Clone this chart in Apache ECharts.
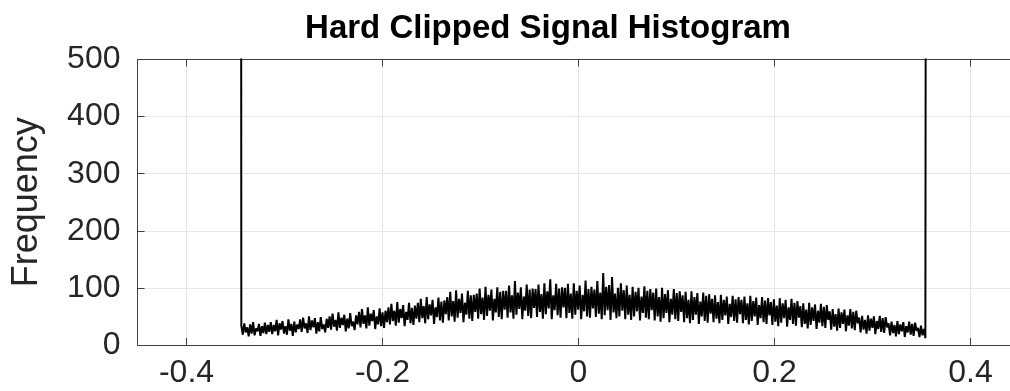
<!DOCTYPE html>
<html>
<head>
<meta charset="utf-8">
<script src="https://cdn.jsdelivr.net/npm/echarts@6/dist/echarts.min.js"></script>
<style>
  html, body { margin: 0; padding: 0; background: #ffffff; }
  #chart { width: 1010px; height: 391px; }
</style>
</head>
<body>
<div id="chart"></div>
<script>
// Histogram of a hard-clipped signal: clip levels and bin counts
const binFirst = -0.3448;   // centre of the first (clipped) bin
const binLast = 0.3562;     // centre of the last (clipped) bin
const clippedLow = 2600;    // samples stuck at the negative clip level
const clippedHigh = 2600;   // samples stuck at the positive clip level

// counts of the un-clipped bins, left to right
const interiorCounts = [
  34,18,38,22,31,15,36,20,40,17,29,24,37,16,33,21,39,19,35,23,
  40,19,35,24,44,17,38,27,42,20,33,18,45,25,37,16,41,22,36,28,
  45,23,48,29,38,21,50,26,43,31,47,20,40,24,49,28,36,22,46,30,
  50,27,55,32,44,25,57,30,48,35,53,24,46,29,56,33,41,26,52,36,
  58,31,63,37,52,29,66,34,55,42,61,28,50,36,64,33,57,30,60,40,
  66,36,72,42,60,34,75,39,63,47,70,33,58,44,74,38,65,35,69,46,
  74,40,81,47,68,38,84,45,71,52,79,37,66,49,83,43,76,39,78,54,
  84,43,93,50,77,41,96,48,81,56,90,40,74,53,95,46,87,42,88,58,
  90,46,99,54,83,44,102,51,88,60,97,43,81,57,101,49,93,45,95,62,
  95,48,104,57,87,46,112,53,92,63,101,45,85,60,106,51,97,47,99,65,
  98,49,106,58,89,46,108,54,94,64,115,45,87,61,107,52,99,48,101,66,
  100,47,107,56,90,46,108,53,95,62,104,45,88,59,113,50,98,48,102,64,
  97,49,112,55,92,45,126,52,102,61,105,44,119,57,90,47,100,50,108,60,
  96,45,104,53,88,44,102,50,93,59,100,43,85,56,103,48,95,45,98,61,
  92,43,99,50,84,41,100,47,89,56,96,40,81,53,98,45,91,42,94,58,
  87,40,93,47,79,38,94,44,84,53,91,37,76,50,92,42,86,39,89,55,
  81,40,87,46,75,38,88,44,79,52,85,37,72,49,86,42,80,39,84,54,
  79,38,85,44,73,36,86,42,77,50,83,35,70,47,84,40,78,37,82,52,
  75,35,80,41,69,33,82,39,73,47,79,32,66,44,81,37,74,34,77,48,
  68,31,73,37,62,29,74,35,66,42,71,28,60,39,72,33,67,30,70,44,
  59,27,63,32,54,25,64,30,57,37,62,24,52,34,63,29,58,26,60,38,
  48,22,51,27,44,20,52,25,46,30,50,19,42,28,51,23,47,21,49,31,
  38,17,41,21,35,15,42,19,36,24,40,14,33,22,41,18,37,16,39,25,
  30,14,34,17,28,12
];

const xTicks = [-0.4, -0.2, 0, 0.2, 0.4];
const xTickLabels = ['-0.4', '-0.2', '0', '0.2', '0.4'];
const yTicks = [0, 100, 200, 300, 400, 500];

const titleText = 'Hard Clipped Signal Histogram';
const yAxisTitle = 'Frequency';

// assemble [binCentre, count] pairs
const counts = [clippedLow].concat(interiorCounts, [clippedHigh]);
const binStep = (binLast - binFirst) / (counts.length - 1);
const histData = counts.map((c, i) => [binFirst + i * binStep, c]);

const FONT = '"Liberation Sans", Arial, Helvetica, sans-serif';
const AXIS_COLOR = '#404040';
const GRID_COLOR = '#e6e6e6';
const TEXT_COLOR = '#262626';

const chart = echarts.init(document.getElementById('chart'), null, { renderer: 'canvas' });

chart.setOption({
  animation: false,
  backgroundColor: '#ffffff',
  title: {
    text: titleText,
    left: 543,
    top: 7,
    textAlign: 'center',
    textStyle: { fontFamily: FONT, fontSize: 33, fontWeight: 'bold', color: '#000000' }
  },
  // the plot box runs slightly past the right edge of the canvas
  grid: {
    left: 137.5, top: 59.5, width: 882, height: 285.5,
    containLabel: false,
    outerBoundsMode: 'none'
  },
  xAxis: [
    {
      type: 'value',
      position: 'bottom',
      min: -0.45,
      max: 0.45,
      axisLine: { show: true, onZero: false, lineStyle: { color: AXIS_COLOR, width: 1 } },
      axisTick: { show: true, inside: true, length: 7, customValues: xTicks, lineStyle: { color: AXIS_COLOR } },
      axisLabel: {
        show: true,
        customValues: xTicks,
        margin: 12,
        fontFamily: FONT, fontSize: 32, color: TEXT_COLOR,
        formatter: (v) => xTickLabels[xTicks.findIndex(t => Math.abs(t - v) < 1e-9)] ?? ''
      },
      splitLine: { show: true, lineStyle: { color: GRID_COLOR, width: 1 } }
    },
    {
      type: 'value',
      position: 'top',
      min: -0.45,
      max: 0.45,
      axisLine: { show: true, onZero: false, lineStyle: { color: AXIS_COLOR, width: 1 } },
      axisTick: { show: true, inside: true, length: 7, customValues: xTicks, lineStyle: { color: AXIS_COLOR } },
      axisLabel: { show: false },
      splitLine: { show: false }
    }
  ],
  yAxis: {
    type: 'value',
    min: 0,
    max: 500,
    interval: 100,
    name: yAxisTitle,
    nameLocation: 'middle',
    nameGap: 92,
    nameTextStyle: { fontFamily: FONT, fontSize: 36, color: TEXT_COLOR },
    axisLine: { show: true, onZero: false, lineStyle: { color: AXIS_COLOR, width: 1 } },
    axisTick: { show: true, inside: true, length: 7, lineStyle: { color: AXIS_COLOR } },
    axisLabel: {
      margin: 17,
      fontFamily: FONT, fontSize: 32, color: TEXT_COLOR,
      formatter: (v) => (yTicks.includes(v) ? String(v) : '')
    },
    splitLine: { show: true, lineStyle: { color: GRID_COLOR, width: 1 } }
  },
  series: [
    {
      type: 'line',
      xAxisIndex: 0,
      data: histData,
      step: 'middle',
      symbol: 'none',
      clip: true,
      lineStyle: { color: '#000000', width: 2 },
      z: 3
    }
  ]
});
</script>
</body>
</html>
